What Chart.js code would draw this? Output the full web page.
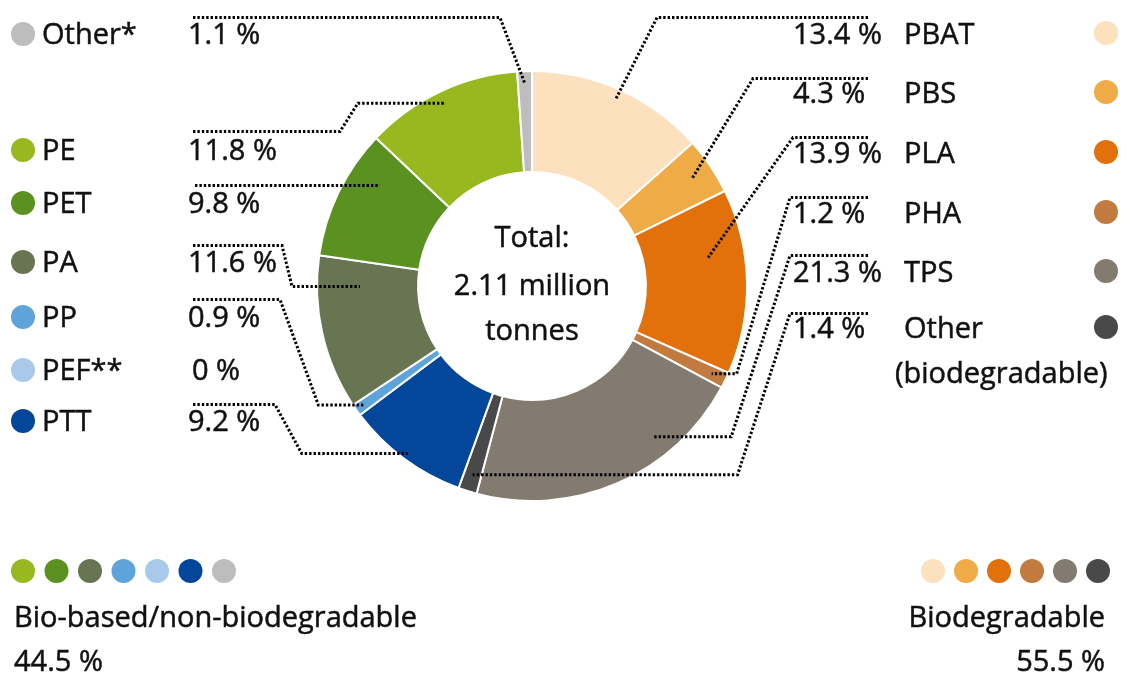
<!DOCTYPE html>
<html lang="en">
<head>
<meta charset="UTF-8">
<title>Bioplastics production capacity by material type</title>
<script src="https://cdn.jsdelivr.net/npm/chart.js"></script>
<style>
  html, body { margin: 0; padding: 0; background: #ffffff; }
  #wrap { width: 1134px; height: 677px; }
</style>
</head>
<body>
<div id="wrap"><canvas id="chart" width="1134" height="677"></canvas></div>
<script>
// material types, clockwise from 12 o'clock
const materials = ['PBAT', 'PBS', 'PLA', 'PHA', 'TPS', 'Other (biodegradable)', 'PTT', 'PEF**', 'PP', 'PA', 'PET', 'PE', 'Other*'];
const shares = [13.4, 4.3, 13.9, 1.2, 21.3, 1.4, 9.2, 0, 0.9, 11.6, 9.8, 11.8, 1.1];
const colours = ['#fde1bf', '#eeab46', '#e2700b', '#c17b40', '#837a70', '#494949', '#04479a', '#a9c9eb', '#5ea4da', '#687552', '#5a9121', '#97b81e', '#bdbdbd'];

const groupNames = ['Bio-based/non-biodegradable', 'Biodegradable'];
const groupShares = [44.5, 55.5];
const groupMembers = [[11, 10, 9, 8, 7, 6, 12], [0, 1, 2, 3, 4, 5]];
const totalLines = ['Total:', '2.11 million', 'tonnes'];

// side lists: which material sits on which text row
const leftRows = [[12, 44], [11, 160], [10, 213], [9, 272], [8, 327], [7, 380], [6, 431]];
const rightRows = [[0, 44], [1, 103], [2, 163], [3, 223], [4, 282], [5, 338]];

// dotted callouts: label line at y, from -> knee, then diagonal into the slice
// t = position along the slice angle, r = fraction of outer radius, tail = last flat run
const leaders = {
  0:  { y: 17,  from: 868, knee: 657, tail: 0,   t: 0.5,  r: 0.95 },
  1:  { y: 78,  from: 868, knee: 753, tail: 0,   t: 0.5,  r: 0.9 },
  2:  { y: 137, from: 868, knee: 793, tail: 0,   t: 0.34, r: 0.83 },
  3:  { y: 197, from: 868, knee: 790, tail: 25,  t: 0.5,  r: 0.93 },
  4:  { y: 255, from: 868, knee: 790, tail: 78,  t: 0.3,  r: 0.9 },
  5:  { y: 313, from: 868, knee: 790, tail: 265, t: 0.5,  r: 0.92 },
  6:  { y: 404, from: 193, knee: 275, tail: 106, t: 0.5,  r: 0.97 },
  8:  { y: 299, from: 193, knee: 280, tail: 45,  t: 0.5,  r: 0.96 },
  9:  { y: 245, from: 193, knee: 282, tail: 68,  t: 0.8,  r: 0.8 },
  10: { y: 185, from: 195, knee: 378, tail: 0,   t: 0.72, r: 0.85 },
  11: { y: 131, from: 193, knee: 340, tail: 88,  t: 0.5,  r: 0.94 },
  12: { y: 17,  from: 193, knee: 500, tail: 0,   t: 0.5,  r: 0.94 }
};

const FONT = '29px "Open Sans"';
const SX = 1.0;
const INK = '#111111';

const pct = v => v + ' %';

function text(ctx, str, x, y, align) {
  ctx.save();
  ctx.translate(x, y);
  ctx.scale(SX, 1);
  ctx.textAlign = align || 'left';
  ctx.fillText(str, 0, 0);
  ctx.strokeText(str, 0, 0);
  ctx.restore();
}

function dot(ctx, x, y, r, c) {
  ctx.beginPath();
  ctx.arc(x, y, r, 0, Math.PI * 2);
  ctx.fillStyle = c;
  ctx.fill();
}

const annotations = {
  id: 'annotations',
  afterDraw(chart) {
    const ctx = chart.ctx;
    const arcs = chart.getDatasetMeta(0).data;

    // callout lines
    ctx.save();
    ctx.strokeStyle = '#000000';
    ctx.lineWidth = 3;
    ctx.setLineDash([2.4, 2]);
    Object.keys(leaders).forEach(k => {
      const L = leaders[k];
      const a = arcs[k].getProps(['x', 'y', 'startAngle', 'endAngle', 'outerRadius']);
      const ang = a.startAngle + (a.endAngle - a.startAngle) * L.t;
      const ex = a.x + Math.cos(ang) * a.outerRadius * L.r;
      const ey = a.y + Math.sin(ang) * a.outerRadius * L.r;
      const dir = L.from < a.x ? -1 : 1;
      ctx.beginPath();
      ctx.moveTo(L.from, L.y + 0.5);
      ctx.lineTo(L.knee, L.y + 0.5);
      ctx.lineTo(ex + dir * L.tail, ey);
      ctx.lineTo(ex, ey);
      ctx.stroke();
    });
    ctx.restore();

    ctx.save();
    ctx.font = FONT;
    ctx.fillStyle = INK;
    ctx.strokeStyle = INK;
    ctx.lineWidth = 0.5;
    ctx.textBaseline = 'alphabetic';

    // centre
    const c = arcs[0].getProps(['x', 'y']);
    text(ctx, totalLines[0], c.x, 247, 'center');
    text(ctx, totalLines[1], c.x, 295, 'center');
    text(ctx, totalLines[2], c.x, 340, 'center');

    // left list
    leftRows.forEach(([i, y]) => {
      dot(ctx, 23, y - 10, 12, colours[i]);
      ctx.fillStyle = INK;
      text(ctx, materials[i], 42, y);
      text(ctx, pct(shares[i]), shares[i] === 0 ? 192 : 188, y);
    });

    // right list
    rightRows.forEach(([i, y]) => {
      dot(ctx, 1106, y - 11, 12, colours[i]);
      ctx.fillStyle = INK;
      text(ctx, pct(shares[i]), 793, y);
      const parts = materials[i].split(' ');
      text(ctx, parts[0], 904, y);
      if (parts[1]) text(ctx, parts[1], 895, y + 45);
    });

    // group summary
    groupMembers[0].forEach((i, n) => dot(ctx, 23 + n * 33.5, 571, 12, colours[i]));
    groupMembers[1].forEach((i, n) => dot(ctx, 933 + n * 33, 571, 12, colours[i]));
    ctx.fillStyle = INK;
    text(ctx, groupNames[0], 14, 627);
    text(ctx, pct(groupShares[0]), 14, 671);
    text(ctx, groupNames[1], 1105, 627, 'right');
    text(ctx, pct(groupShares[1]), 1105, 671, 'right');
    ctx.restore();
  }
};

new Chart(document.getElementById('chart'), {
  type: 'doughnut',
  data: {
    labels: materials,
    datasets: [{
      data: shares,
      backgroundColor: colours,
      borderColor: '#ffffff',
      borderWidth: 2
    }]
  },
  options: {
    responsive: false,
    animation: false,
    devicePixelRatio: 1,
    cutout: '53%',
    layout: { padding: { left: 316, right: 386, top: 70, bottom: 175 } },
    plugins: { legend: { display: false }, tooltip: { enabled: false } }
  },
  plugins: [annotations]
});
</script>
</body>
</html>
